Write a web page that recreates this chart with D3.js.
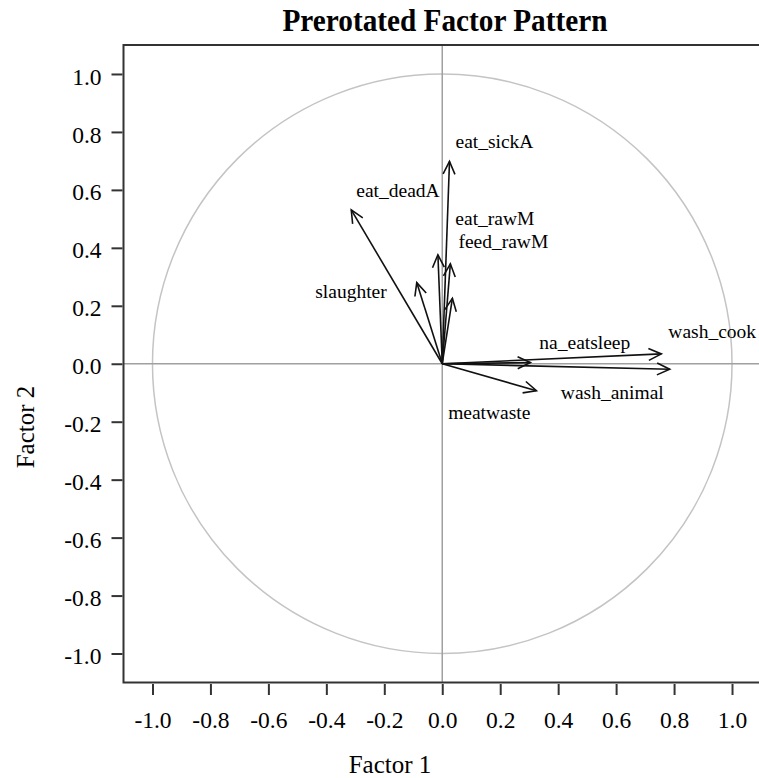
<!DOCTYPE html>
<html>
<head>
<meta charset="utf-8">
<script src="https://cdn.jsdelivr.net/npm/d3@7"></script>
<style>
  html, body { margin: 0; padding: 0; background: #fff; }
  svg { display: block; }
  text { font-family: "Liberation Serif", "Times New Roman", serif; fill: #000; }
</style>
</head>
<body>
<svg id="chart" width="759" height="778"></svg>
<script>
// ---- data ----
const variables = ["eat_sickA", "eat_deadA", "slaughter", "", "eat_rawM", "feed_rawM",
                   "na_eatsleep", "wash_cook", "wash_animal", "meatwaste"];
const factor1 = [0.025, -0.314, -0.088, -0.015, 0.028, 0.035, 0.304, 0.756, 0.785, 0.325];
const factor2 = [0.698, 0.531, 0.280, 0.376, 0.345, 0.226, 0.004, 0.034, -0.019, -0.093];
const tickValues = [-1.0, -0.8, -0.6, -0.4, -0.2, 0.0, 0.2, 0.4, 0.6, 0.8, 1.0];
const tickLabels = ["-1.0", "-0.8", "-0.6", "-0.4", "-0.2", "0.0", "0.2", "0.4", "0.6", "0.8", "1.0"];
const axisDomain = [-1.1, 1.1];
const titleText = "Prerotated Factor Pattern";
const xTitle = "Factor 1";
const yTitle = "Factor 2";

// label placement relative to arrow tip (pixels): [anchor, dx, dy]
const labelPlacement = [
  ["start", 6, -13], ["start", 5, -13], ["end", -30, 15], ["start", 0, 0],
  ["start", 5, -39], ["start", 6, -50], ["start", 9, -14], ["start", 7, -16],
  ["end", -6, 30], ["end", -6, 28]
];

// ---- layout ----
const svg = d3.select("#chart");
const pLeft = 123.5, pRight = 761, pTop = 45, pBottom = 682.5;
const x = d3.scaleLinear().domain(axisDomain).range([pLeft, pRight]);
const y = d3.scaleLinear().domain(axisDomain).range([pBottom, pTop]);

// title
svg.append("text")
  .attr("x", 445).attr("y", 31)
  .attr("text-anchor", "middle")
  .attr("textLength", 325).attr("lengthAdjust", "spacingAndGlyphs")
  .style("font-size", "31px").style("font-weight", "bold")
  .text(titleText);

// clip for plot area
svg.append("defs").append("clipPath").attr("id", "plotclip")
  .append("rect").attr("x", pLeft).attr("y", pTop)
  .attr("width", pRight - pLeft).attr("height", pBottom - pTop);

const plot = svg.append("g").attr("clip-path", "url(#plotclip)");

// unit circle
plot.append("ellipse")
  .attr("cx", x(0)).attr("cy", y(0))
  .attr("rx", x(1) - x(0)).attr("ry", y(0) - y(1))
  .attr("fill", "none").attr("stroke", "#c4c4c4").attr("stroke-width", 1.5);

// reference lines
plot.append("line").attr("x1", x(0)).attr("x2", x(0)).attr("y1", pTop).attr("y2", pBottom)
  .attr("stroke", "#a0a0a0").attr("stroke-width", 1.5);
plot.append("line").attr("x1", pLeft).attr("x2", pRight).attr("y1", y(0)).attr("y2", y(0))
  .attr("stroke", "#a0a0a0").attr("stroke-width", 1.5);

// arrows
const data = variables.map((v, i) => ({ name: v, fx: factor1[i], fy: factor2[i], place: labelPlacement[i] }));
const headLen = 14, headAng = 25 * Math.PI / 180;
const arrows = plot.append("g").attr("stroke", "#111").attr("stroke-width", 1.6).attr("fill", "none");
data.forEach(d => {
  const x0 = x(0), y0 = y(0), x1 = x(d.fx), y1 = y(d.fy);
  const a = Math.atan2(y1 - y0, x1 - x0);
  const pA = [x1 - headLen * Math.cos(a - headAng), y1 - headLen * Math.sin(a - headAng)];
  const pB = [x1 - headLen * Math.cos(a + headAng), y1 - headLen * Math.sin(a + headAng)];
  arrows.append("line").attr("x1", x0).attr("y1", y0).attr("x2", x1).attr("y2", y1);
  arrows.append("path").attr("d", `M${pA[0]},${pA[1]}L${x1},${y1}L${pB[0]},${pB[1]}`)
    .attr("stroke-linejoin", "miter");
});

// labels
svg.append("g").selectAll("text").data(data.filter(d => d.name !== "")).join("text")
  .attr("x", d => x(d.fx) + d.place[1])
  .attr("y", d => y(d.fy) + d.place[2])
  .attr("text-anchor", d => d.place[0])
  .style("font-size", "19.5px")
  .text(d => d.name);

// frame
svg.append("rect").attr("x", pLeft).attr("y", pTop)
  .attr("width", pRight - pLeft).attr("height", pBottom - pTop)
  .attr("fill", "none").attr("stroke", "#333").attr("stroke-width", 2);

// axes
const fmt = v => tickLabels[tickValues.indexOf(v)];
const xAxis = svg.append("g").attr("transform", `translate(0,${pBottom + 1.5})`)
  .call(d3.axisBottom(x).tickValues(tickValues).tickFormat(fmt).tickSize(11).tickPadding(16));
const yAxis = svg.append("g").attr("transform", `translate(${pLeft - 1},0)`)
  .call(d3.axisLeft(y).tickValues(tickValues).tickFormat(fmt).tickSize(11).tickPadding(10));
[xAxis, yAxis].forEach(g => {
  g.select(".domain").remove();
  g.selectAll(".tick line").attr("stroke", "#333").attr("stroke-width", 2);
  g.selectAll(".tick text").style("font-size", "23.5px")
    .style("font-family", "'Liberation Serif', 'Times New Roman', serif").attr("fill", "#000");
});
yAxis.selectAll(".tick text").attr("dy", "0.43em");

// axis titles
svg.append("text").attr("x", 390).attr("y", 773)
  .attr("text-anchor", "middle").style("font-size", "25px").text(xTitle);
svg.append("text").attr("transform", "translate(34,427) rotate(-90)")
  .attr("text-anchor", "middle").style("font-size", "25px").text(yTitle);
</script>
</body>
</html>
